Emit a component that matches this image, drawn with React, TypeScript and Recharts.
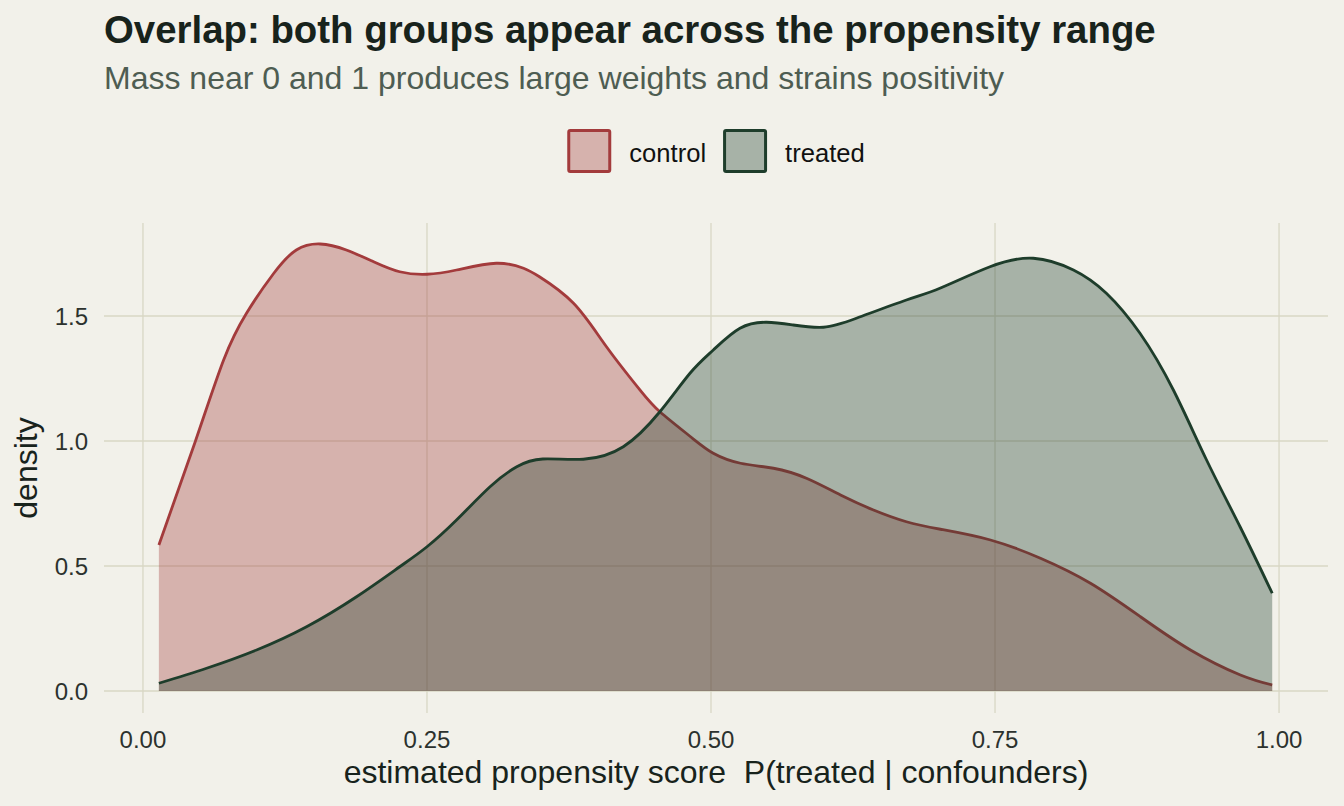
import React from 'react';
import { ComposedChart, Area, XAxis, YAxis, CartesianGrid } from 'recharts';

// Kernel density estimates of the propensity score, read at selected scores
const controlScore = [
  0.014, 0.046, 0.071, 0.091, 0.115, 0.135, 0.156, 0.179, 0.203, 0.226, 0.25,
  0.276, 0.311, 0.335, 0.349, 0.379, 0.408, 0.4375, 0.455, 0.482, 0.502,
  0.526, 0.555, 0.584, 0.614, 0.643, 0.672, 0.702, 0.746, 0.79, 0.834, 0.878,
  0.922, 0.966, 0.994,
];
const controlDensity = [
  0.584, 0.997, 1.324, 1.51, 1.67, 1.764, 1.788, 1.764, 1.717, 1.677, 1.667,
  1.684, 1.711, 1.691, 1.657, 1.551, 1.377, 1.204, 1.117, 1.017, 0.951,
  0.911, 0.891, 0.851, 0.784, 0.724, 0.677, 0.647, 0.604, 0.531, 0.431, 0.297,
  0.164, 0.064, 0.024,
];
const treatedScore = [
  0.014, 0.056, 0.1, 0.144, 0.188, 0.226, 0.25, 0.276, 0.3055, 0.329, 0.352,
  0.3876, 0.4228, 0.455, 0.4815, 0.502, 0.5255, 0.549, 0.5724, 0.599,
  0.628, 0.672, 0.702, 0.7456, 0.7837, 0.819, 0.848, 0.8776, 0.907, 0.936,
  0.9657, 0.994,
];
const treatedDensity = [
  0.031, 0.091, 0.164, 0.257, 0.377, 0.497, 0.577, 0.684, 0.817, 0.897, 0.928,
  0.927, 0.977, 1.117, 1.271, 1.364, 1.451, 1.475, 1.464, 1.455, 1.491,
  1.564, 1.612, 1.697, 1.731, 1.684, 1.591, 1.431, 1.204, 0.926, 0.657, 0.391,
];

const xTicks = [0, 0.25, 0.5, 0.75, 1];
const yTicks = [0, 0.5, 1, 1.5];
const xDomain: [number, number] = [-0.0343, 1.0431];
const yDomain: [number, number] = [-0.088, 1.872];
const groups = ['control', 'treated'];
const groupColors: Record<string, string> = { control: '#A33B3C', treated: '#1E3D2B' };

const FONT = '"Liberation Sans", Arial, Helvetica, sans-serif';
const BG = '#F2F1EA';
const GRID = '#D8D7C5';
const TICK = '#2C322E';
const INK = '#18231C';
const FILL_ALPHA = 0.35;

// Merge both series onto one table keyed by score (missing values left null)
function buildRows() {
  const byScore = new Map<number, { score: number; control: number | null; treated: number | null }>();
  const put = (s: number, key: 'control' | 'treated', v: number) => {
    if (!byScore.has(s)) byScore.set(s, { score: s, control: null, treated: null });
    byScore.get(s)![key] = v;
  };
  controlScore.forEach((s, i) => put(s, 'control', controlDensity[i]));
  treatedScore.forEach((s, i) => put(s, 'treated', treatedDensity[i]));
  return Array.from(byScore.values()).sort((a, b) => a.score - b.score);
}
const rows = buildRows();

const W = 1344;
const H = 806;
const PLOT_LEFT = 104;
const PLOT_RIGHT = 1328;
const PLOT_TOP = 223;
const PLOT_BOTTOM = 713;

// Grid lines only at the tick values (no frame around the panel)
const verticalGrid = (props: any) => {
  const sc = props?.xAxis?.scale;
  if (typeof sc === 'function') return xTicks.map((t) => sc(t));
  const { left, width } = props.offset;
  return xTicks.map((t) => left + ((t - xDomain[0]) / (xDomain[1] - xDomain[0])) * width);
};
const horizontalGrid = (props: any) => {
  const sc = props?.yAxis?.scale;
  if (typeof sc === 'function') return yTicks.map((t) => sc(t));
  const { top, height } = props.offset;
  return yTicks.map((t) => top + height - ((t - yDomain[0]) / (yDomain[1] - yDomain[0])) * height);
};

const XTick = (props: any) => (
  <text x={props.x} y={748} textAnchor="middle" fontFamily={FONT} fontSize={24} fill={TICK}>
    {Number(props.payload.value).toFixed(2)}
  </text>
);

const YTick = (props: any) => (
  <text x={88} y={props.y} dy="0.36em" textAnchor="end" fontFamily={FONT} fontSize={24} fill={TICK}>
    {Number(props.payload.value).toFixed(1)}
  </text>
);

function measure(text: string, font: string): number {
  try {
    const c = document.createElement('canvas').getContext('2d');
    if (c) {
      c.font = font;
      return c.measureText(text).width;
    }
  } catch (e) {
    /* fall through */
  }
  return text.length * 11;
}

function LegendKeys() {
  const keySize = 41;
  const legendFont = `25.6px ${FONT}`;
  const gapKeyText = 18;
  const gapItems = 17;
  const widths = groups.map((g) => measure(g, legendFont));
  const total =
    widths.reduce((a, w) => a + keySize + 3 + gapKeyText + w, 0) + gapItems * (groups.length - 1);
  let x = (PLOT_LEFT + PLOT_RIGHT) / 2 - total / 2;
  return (
    <g>
      {groups.map((g, i) => {
        const x0 = x;
        x += keySize + 3 + gapKeyText + widths[i] + gapItems;
        return (
          <g key={g}>
            <rect
              x={x0 + 1.5}
              y={130.5}
              width={keySize}
              height={keySize}
              fill={groupColors[g]}
              fillOpacity={FILL_ALPHA}
              stroke={groupColors[g]}
              strokeWidth={3}
              rx={1.5}
            />
            <text x={x0 + keySize + 3 + gapKeyText} y={162} fontFamily={FONT} fontSize={25.6} fill="#111">
              {g}
            </text>
          </g>
        );
      })}
    </g>
  );
}

export default function App() {
  return (
    <div
      style={{
        position: 'absolute',
        left: 0,
        top: 0,
        width: W,
        height: H,
        background: BG,
        overflow: 'hidden',
      }}
    >
      <div style={{ position: 'absolute', left: 0, top: 0 }}>
        <ComposedChart
          width={W}
          height={H}
          data={rows}
          margin={{ top: PLOT_TOP, right: W - PLOT_RIGHT, bottom: H - PLOT_BOTTOM - 60, left: PLOT_LEFT - 60 }}
        >
          <CartesianGrid
            stroke={GRID}
            strokeWidth={1.3}
            verticalCoordinatesGenerator={verticalGrid}
            horizontalCoordinatesGenerator={horizontalGrid}
          />
          <XAxis
            dataKey="score"
            type="number"
            domain={xDomain}
            ticks={xTicks}
            allowDataOverflow
            height={60}
            axisLine={false}
            tickLine={false}
            tick={<XTick />}
          />
          <YAxis
            type="number"
            domain={yDomain}
            ticks={yTicks}
            allowDataOverflow
            width={60}
            axisLine={false}
            tickLine={false}
            tick={<YTick />}
          />
          {groups.map((g) => (
            <Area
              key={g}
              dataKey={g}
              name={g}
              type="natural"
              connectNulls
              baseValue={0}
              stroke={groupColors[g]}
              strokeWidth={2.8}
              fill={groupColors[g]}
              fillOpacity={FILL_ALPHA}
              isAnimationActive={false}
              dot={false}
              activeDot={false}
            />
          ))}
        </ComposedChart>
      </div>
      <svg width={W} height={H} style={{ position: 'absolute', left: 0, top: 0, pointerEvents: 'none' }}>
        <text x={104} y={43} fontFamily={FONT} fontSize={38.4} fontWeight="bold" fill={INK}>
          Overlap: both groups appear across the propensity range
        </text>
        <text x={104} y={89} fontFamily={FONT} fontSize={32} fill="#4E5D52">
          Mass near 0 and 1 produces large weights and strains positivity
        </text>
        <LegendKeys />
        <text
          x={(PLOT_LEFT + PLOT_RIGHT) / 2}
          y={783}
          textAnchor="middle"
          fontFamily={FONT}
          fontSize={32}
          fill={INK}
          style={{ whiteSpace: 'pre' }}
        >
          {'estimated propensity score  P(treated | confounders)'}
        </text>
        <text
          x={37}
          y={(PLOT_TOP + PLOT_BOTTOM) / 2}
          textAnchor="middle"
          fontFamily={FONT}
          fontSize={32}
          fill={INK}
          transform={`rotate(-90 37 ${(PLOT_TOP + PLOT_BOTTOM) / 2})`}
        >
          density
        </text>
      </svg>
    </div>
  );
}
